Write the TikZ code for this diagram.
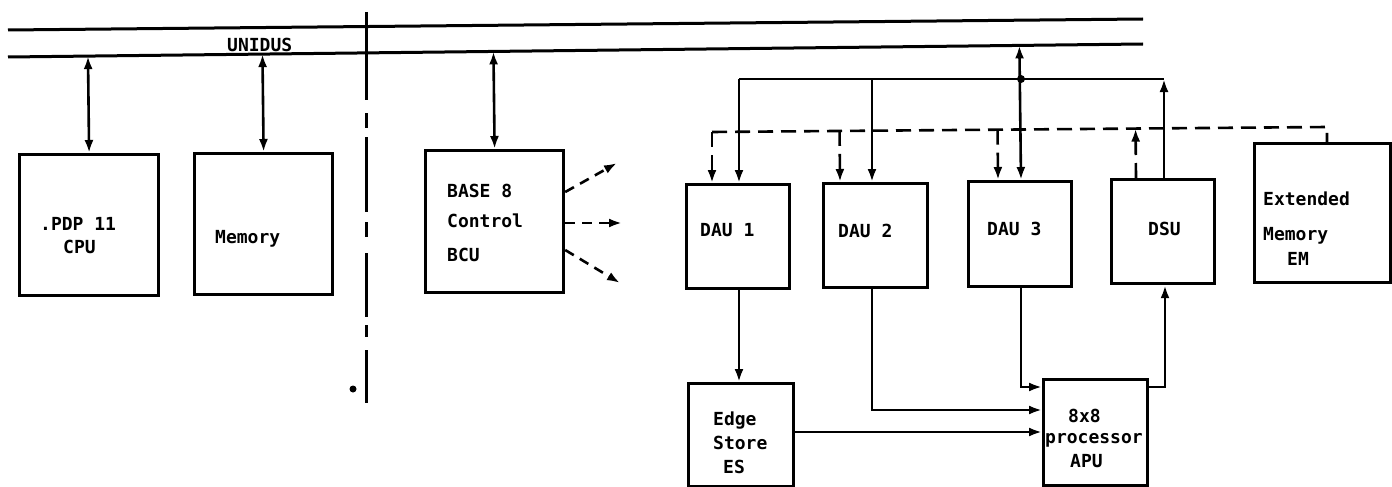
\documentclass[tikz,border=0pt]{standalone}
\usepackage{fontspec}
\newfontfamily\lblfont{DejaVu Sans Mono}
\usetikzlibrary{arrows.meta,calc}
\tikzset{
  box/.style={draw, line width=3.2pt, inner sep=0pt, anchor=north west},
  conn/.style={line width=2.6pt},
  busline/.style={line width=3pt},
  tip/.style={-{Latex[length=13pt,width=9pt]}},
  dtip/.style={{Latex[length=13pt,width=9pt]}-{Latex[length=13pt,width=9pt]}},
  dashline/.style={dash pattern=on 15pt off 8pt},
  bcudash/.style={dash pattern=on 10pt off 7pt},
  lbl/.style={font=\lblfont\bfseries\fontsize{18}{20}\selectfont, inner sep=0pt, anchor=base west},
}
\begin{document}
\begin{tikzpicture}[x=1pt,y=-1pt]
\useasboundingbox (0,0) rectangle (1392,487);

% boxes
\node[box, minimum width=139pt, minimum height=141pt] (cpu)  at (18,153) {};
\node[box, minimum width=138pt, minimum height=141pt] (mem)  at (193,152) {};
\node[box, minimum width=138pt, minimum height=142pt] (bcu)  at (424,149) {};
\node[box, minimum width=103pt, minimum height=104pt] (dau1) at (685,183) {};
\node[box, minimum width=104pt, minimum height=104pt] (dau2) at (822,182) {};
\node[box, minimum width=103pt, minimum height=105pt] (dau3) at (967,180) {};
\node[box, minimum width=103pt, minimum height=104pt] (dsu)  at (1110,178) {};
\node[box, minimum width=136pt, minimum height=139pt] (em)   at (1253,142) {};
\node[box, minimum width=105pt, minimum height=103pt] (es)   at (687,382) {};
\node[box, minimum width=104pt, minimum height=106pt] (apu)  at (1042,378) {};

% labels
\node[lbl] (tcpu1) at (40,230) {.PDP 11};
\node[lbl] (tcpu2) at (63,253) {CPU};
\node[lbl] (tmem)  at (215,243) {Memory};
\node[lbl] (tbcu1) at (447,197) {BASE 8};
\node[lbl] (tbcu2) at (447,227) {Control};
\node[lbl] (tbcu3) at (447,261) {BCU};
\node[lbl] (tdau1) at (700,236) {DAU 1};
\node[lbl] (tdau2) at (838,237) {DAU 2};
\node[lbl] (tdau3) at (987,235) {DAU 3};
\node[lbl] (tdsu)  at (1148,235) {DSU};
\node[lbl] (tem1)  at (1263,205) {Extended};
\node[lbl] (tem2)  at (1263,240) {Memory};
\node[lbl] (tem3)  at (1287,265) {EM};
\node[lbl] (tes1)  at (713,425) {Edge};
\node[lbl] (tes2)  at (713,449) {Store};
\node[lbl] (tes3)  at (723,473) {ES};
\node[lbl] (tapu1) at (1068,422) {8x8};
\node[lbl] (tapu2) at (1045,443) {processor};
\node[lbl] (tapu3) at (1070,467) {APU};

% bus
\coordinate (tl) at (8,30);  \coordinate (tr) at (1143,19);
\coordinate (bl) at (8,57);  \coordinate (br) at (1143,44);
\draw[busline] (tl) -- (tr);
\draw[busline] (bl) -- (br);
\node[lbl] (tbus) at (227,52) {UNIDUS};

% dash-dot separator
\foreach \a/\b in {12/100,113/128,137/212,222/237,253/317,325/337,350/403}
  \draw[line width=3pt] (366,\a) -- (366,\b);
\fill (353,389) circle (3.5pt);

% bus connections
\draw[conn,dtip] ($(bl)!(cpu.north)!(br)$) -- (cpu.north);
\draw[conn,dtip] ($(bl)!(mem.north)!(br)$) -- (mem.north);
\draw[conn,dtip] ($(bl)!(bcu.north)!(br)$) -- (bcu.north);

% BCU dashed outputs
\coordinate (b1s) at ($(bcu.north east)+(0,43)$);
\coordinate (b2s) at ($(bcu.north east)+(0,74)$);
\coordinate (b3s) at ($(bcu.north east)+(0,101)$);
\coordinate (b1e) at (617,163);
\coordinate (b2e) at (622,223);
\coordinate (b3e) at (620,283);
\draw[conn,bcudash,tip] (b1s) -- (b1e);
\draw[conn,bcudash,tip] (b2s) -- (b2e);
\draw[conn,bcudash,tip] (b3s) -- (b3e);

% solid data bus to DAUs / DSU
\coordinate (d1s) at ($(dau1.north west)+(54,0)$);
\coordinate (d2s) at ($(dau2.north west)+(50,0)$);
\coordinate (d3s) at ($(dau3.north west)+(54,0)$);
\coordinate (dss) at ($(dsu.north west)+(54,0)$);
\draw[conn,dtip] ($(bl)!(d3s)!(br)$) -- (d3s);
\draw[conn] (d1s |- 0,79) -- (dss |- 0,79);
\fill (d3s |- 0,79) circle (4pt);
\draw[conn,tip] (d1s |- 0,79) -- (d1s);
\draw[conn,tip] (d2s |- 0,79) -- (d2s);
\draw[conn,tip] (dss) -- (dss |- 0,79);

% dashed line to extended memory
\coordinate (dl) at (712,132);
\coordinate (dr) at (1327,127);
\coordinate (d1d) at ($(dau1.north west)+(27,0)$);
\coordinate (d2d) at ($(dau2.north west)+(18,0)$);
\coordinate (d3d) at ($(dau3.north west)+(31,0)$);
\coordinate (dsd) at ($(dsu.north west)+(26,0)$);
\draw[conn,dashline] (dl) -- (dr) -- (dr |- em.north);
\draw[conn,dashline,tip] (dl) -- (d1d);
\draw[conn,dashline,tip] ($(dl)!(d2d)!(dr)$) -- (d2d);
\draw[conn,dashline,tip] ($(dl)!(d3d)!(dr)$) -- (d3d);
\draw[conn,dashline,tip] (dsd) -- ($(dl)!(dsd)!(dr)$);

% lower connections
\coordinate (d1b) at ($(dau1.south west)+(54,0)$);
\coordinate (d2b) at ($(dau2.south west)+(50,0)$);
\coordinate (d3b) at ($(dau3.south west)+(54,0)$);
\coordinate (dsb) at ($(dsu.south west)+(55,0)$);
\coordinate (esr) at ($(es.north east)+(0,50)$);
\draw[conn,tip] (d1b) -- (d1b |- es.north);
\draw[conn,tip] (d2b) |- ($(apu.north west)+(0,32)$);
\draw[conn,tip] (d3b) |- ($(apu.north west)+(0,9)$);
\draw[conn,tip] (esr) -- (esr -| apu.west);
\draw[conn,tip] ($(apu.north east)+(0,9)$) -| (dsb);
\end{tikzpicture}
\end{document}
